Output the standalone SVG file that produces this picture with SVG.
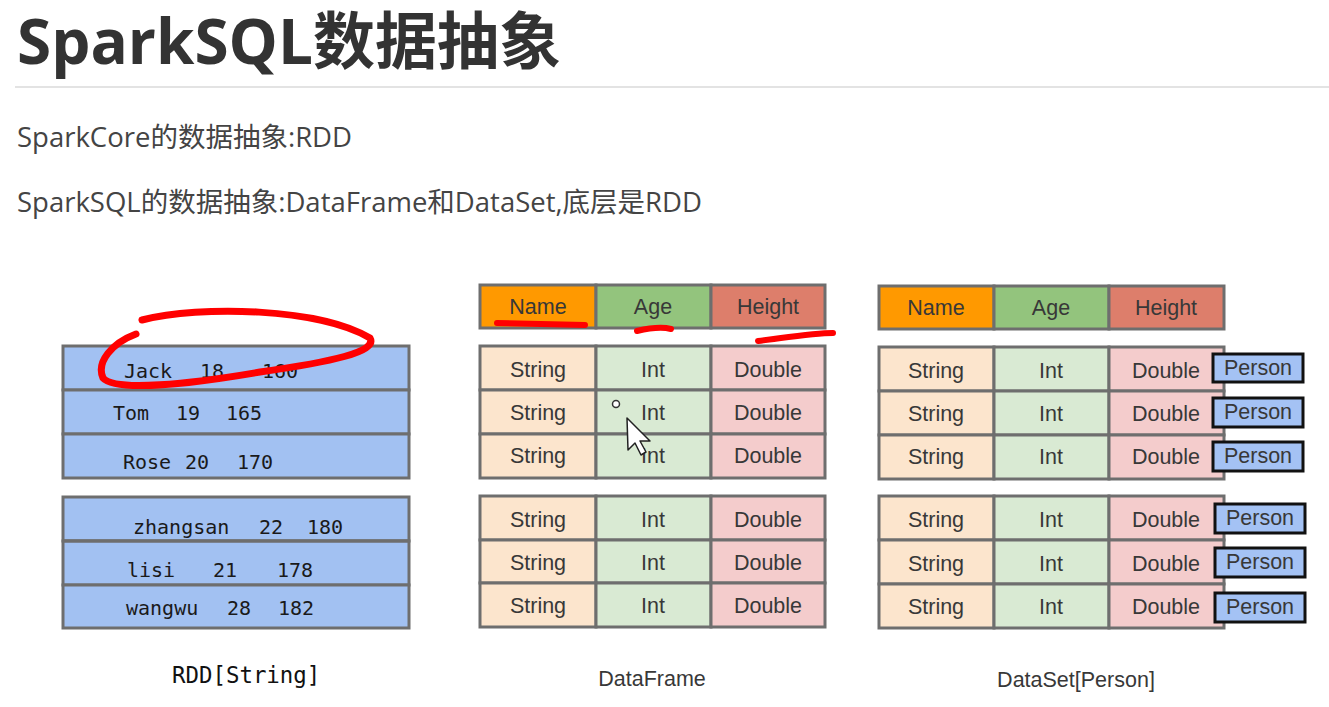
<svg xmlns="http://www.w3.org/2000/svg" width="1329" height="707" viewBox="0 0 1329 707">
<style>
.t{font-family:"Liberation Sans",Arial,sans-serif;font-size:21.5px;fill:#383838;text-anchor:middle}
.r{font-family:"DejaVu Sans Mono","Liberation Mono",monospace;font-size:20px;fill:#1a1a1a}
.cell{stroke:#6e6e6e;stroke-width:3}
.rdd{fill:#a2c1f2;stroke:#6e6e6e;stroke-width:3}
.p{fill:#a4c2f4;stroke:#111;stroke-width:3}
.red{fill:none;stroke:#f00;stroke-linecap:round;stroke-linejoin:round}
</style>
<rect width="1329" height="707" fill="#fff"/>
<g id="heading">
<text x="17" y="64" font-family="'Open Sans','Noto Sans CJK SC',sans-serif" font-weight="bold" font-size="62" fill="#333">SparkSQL数据抽象</text>
<line x1="15" y1="87" x2="1329" y2="87" stroke="#e3e3e3" stroke-width="2"/>
<text x="17" y="147" font-family="'Open Sans','Noto Sans CJK SC',sans-serif" font-size="27.5" fill="#444">SparkCore的数据抽象:RDD</text>
<text x="17" y="212" font-family="'Open Sans','Noto Sans CJK SC',sans-serif" font-size="27.5" fill="#444">SparkSQL的数据抽象:DataFrame和DataSet,底层是RDD</text>
</g>
<g id="rdd">
<rect class="rdd" x="63" y="346" width="346" height="44"/>
<rect class="rdd" x="63" y="390" width="346" height="44"/>
<rect class="rdd" x="63" y="434" width="346" height="44"/>
<rect class="rdd" x="63" y="497" width="346" height="44"/>
<rect class="rdd" x="63" y="541" width="346" height="44"/>
<rect class="rdd" x="63" y="585" width="346" height="43"/>
<text class="r" y="378"><tspan x="124">Jack</tspan><tspan x="200">18</tspan><tspan x="262">160</tspan></text>
<text class="r" y="420"><tspan x="113">Tom</tspan><tspan x="176">19</tspan><tspan x="226">165</tspan></text>
<text class="r" y="469"><tspan x="123">Rose</tspan><tspan x="185">20</tspan><tspan x="237">170</tspan></text>
<text class="r" y="577"><tspan x="127">lisi</tspan><tspan x="213">21</tspan><tspan x="277">178</tspan></text>
<text class="r" y="615"><tspan x="126">wangwu</tspan><tspan x="227">28</tspan><tspan x="278">182</tspan></text>
<text class="r" y="534"><tspan x="133">zhangsan</tspan><tspan x="259">22</tspan><tspan x="307">180</tspan></text>
<line x1="63" y1="541" x2="409" y2="541" stroke="#6e6e6e" stroke-width="3"/>
<text x="172" y="683" font-family="'DejaVu Sans Mono','Liberation Mono',monospace" font-size="22.4" fill="#111">RDD[String]</text>
</g>
<g id="dataframe">
<rect class="cell" x="480" y="285" width="116" height="43" fill="#ff9900"/>
<rect class="cell" x="596" y="285" width="115" height="43" fill="#93c47d"/>
<rect class="cell" x="711" y="285" width="114" height="43" fill="#dd7e6b"/>
<text class="t" x="538" y="314">Name</text><text class="t" x="653" y="314">Age</text><text class="t" x="768" y="314">Height</text>
<g id="df-body1">
<rect class="cell" x="480" y="346" width="116" height="44" fill="#fce5cd"/><rect class="cell" x="596" y="346" width="115" height="44" fill="#d9ead3"/><rect class="cell" x="711" y="346" width="114" height="44" fill="#f4cccc"/>
<rect class="cell" x="480" y="390" width="116" height="44" fill="#fce5cd"/><rect class="cell" x="596" y="390" width="115" height="44" fill="#d9ead3"/><rect class="cell" x="711" y="390" width="114" height="44" fill="#f4cccc"/>
<rect class="cell" x="480" y="434" width="116" height="44" fill="#fce5cd"/><rect class="cell" x="596" y="434" width="115" height="44" fill="#d9ead3"/><rect class="cell" x="711" y="434" width="114" height="44" fill="#f4cccc"/>
<text class="t" x="538" y="377">String</text><text class="t" x="653" y="377">Int</text><text class="t" x="768" y="377">Double</text>
<text class="t" x="538" y="420">String</text><text class="t" x="653" y="420">Int</text><text class="t" x="768" y="420">Double</text>
<text class="t" x="538" y="463">String</text><text class="t" x="653" y="463">Int</text><text class="t" x="768" y="463">Double</text>
</g>
<g id="df-body2">
<rect class="cell" x="480" y="496" width="116" height="44" fill="#fce5cd"/><rect class="cell" x="596" y="496" width="115" height="44" fill="#d9ead3"/><rect class="cell" x="711" y="496" width="114" height="44" fill="#f4cccc"/>
<rect class="cell" x="480" y="540" width="116" height="43" fill="#fce5cd"/><rect class="cell" x="596" y="540" width="115" height="43" fill="#d9ead3"/><rect class="cell" x="711" y="540" width="114" height="43" fill="#f4cccc"/>
<rect class="cell" x="480" y="583" width="116" height="44" fill="#fce5cd"/><rect class="cell" x="596" y="583" width="115" height="44" fill="#d9ead3"/><rect class="cell" x="711" y="583" width="114" height="44" fill="#f4cccc"/>
<text class="t" x="538" y="527">String</text><text class="t" x="653" y="527">Int</text><text class="t" x="768" y="527">Double</text>
<text class="t" x="538" y="570">String</text><text class="t" x="653" y="570">Int</text><text class="t" x="768" y="570">Double</text>
<text class="t" x="538" y="613">String</text><text class="t" x="653" y="613">Int</text><text class="t" x="768" y="613">Double</text>
</g>
<text class="t" x="652" y="686" font-size="22">DataFrame</text>
</g>
<g id="dataset">
<rect class="cell" x="879" y="286" width="115" height="43" fill="#ff9900"/>
<rect class="cell" x="994" y="286" width="115" height="43" fill="#93c47d"/>
<rect class="cell" x="1109" y="286" width="115" height="43" fill="#dd7e6b"/>
<text class="t" x="936" y="315">Name</text><text class="t" x="1051" y="315">Age</text><text class="t" x="1166" y="315">Height</text>
<g id="ds-body1">
<rect class="cell" x="879" y="347" width="115" height="44" fill="#fce5cd"/><rect class="cell" x="994" y="347" width="115" height="44" fill="#d9ead3"/><rect class="cell" x="1109" y="347" width="115" height="44" fill="#f4cccc"/>
<rect class="cell" x="879" y="391" width="115" height="44" fill="#fce5cd"/><rect class="cell" x="994" y="391" width="115" height="44" fill="#d9ead3"/><rect class="cell" x="1109" y="391" width="115" height="44" fill="#f4cccc"/>
<rect class="cell" x="879" y="435" width="115" height="44" fill="#fce5cd"/><rect class="cell" x="994" y="435" width="115" height="44" fill="#d9ead3"/><rect class="cell" x="1109" y="435" width="115" height="44" fill="#f4cccc"/>
<text class="t" x="936" y="378">String</text><text class="t" x="1051" y="378">Int</text><text class="t" x="1166" y="378">Double</text>
<text class="t" x="936" y="421">String</text><text class="t" x="1051" y="421">Int</text><text class="t" x="1166" y="421">Double</text>
<text class="t" x="936" y="464">String</text><text class="t" x="1051" y="464">Int</text><text class="t" x="1166" y="464">Double</text>
</g>
<g id="ds-body2">
<rect class="cell" x="879" y="496" width="115" height="44" fill="#fce5cd"/><rect class="cell" x="994" y="496" width="115" height="44" fill="#d9ead3"/><rect class="cell" x="1109" y="496" width="115" height="44" fill="#f4cccc"/>
<rect class="cell" x="879" y="540" width="115" height="44" fill="#fce5cd"/><rect class="cell" x="994" y="540" width="115" height="44" fill="#d9ead3"/><rect class="cell" x="1109" y="540" width="115" height="44" fill="#f4cccc"/>
<rect class="cell" x="879" y="584" width="115" height="44" fill="#fce5cd"/><rect class="cell" x="994" y="584" width="115" height="44" fill="#d9ead3"/><rect class="cell" x="1109" y="584" width="115" height="44" fill="#f4cccc"/>
<text class="t" x="936" y="527">String</text><text class="t" x="1051" y="527">Int</text><text class="t" x="1166" y="527">Double</text>
<text class="t" x="936" y="571">String</text><text class="t" x="1051" y="571">Int</text><text class="t" x="1166" y="571">Double</text>
<text class="t" x="936" y="614">String</text><text class="t" x="1051" y="614">Int</text><text class="t" x="1166" y="614">Double</text>
</g>
<g id="persons">
<rect class="p" x="1213" y="354" width="90" height="28"/>
<rect class="p" x="1213" y="398" width="90" height="29"/>
<rect class="p" x="1213" y="442" width="90" height="29"/>
<rect class="p" x="1215" y="504" width="90" height="29"/>
<rect class="p" x="1215" y="548" width="90" height="29"/>
<rect class="p" x="1215" y="593" width="90" height="29"/>
<text class="t" x="1258" y="375">Person</text>
<text class="t" x="1258" y="419">Person</text>
<text class="t" x="1258" y="463">Person</text>
<text class="t" x="1260" y="525">Person</text>
<text class="t" x="1260" y="569">Person</text>
<text class="t" x="1260" y="614">Person</text>
</g>
<text class="t" x="1076" y="687" font-size="22">DataSet[Person]</text>
</g>
<g id="annotations">
<path class="red" stroke-width="7" d="M142,320 C200,305 320,308 370,338 C378,352 330,362 260,372 C190,384 115,392 103,378 C96,362 112,343 136,334"/>
<path class="red" stroke-width="6" d="M497,323 L585,325"/>
<path class="red" stroke-width="6" d="M637,331 C650,328 663,327 671,329"/>
<path class="red" stroke-width="6" d="M758,341 C790,337 815,333 833,333"/>
</g>
<g id="cursor">
<circle cx="616" cy="404" r="3.5" fill="#fff" stroke="#333" stroke-width="1.5"/>
<path d="M627,418 L628,450 L635,443 L641,455 L646,452 L640,441 L650,441 Z" fill="#fff" stroke="#222" stroke-width="1.5" stroke-linejoin="round"/>
</g>
</svg>
